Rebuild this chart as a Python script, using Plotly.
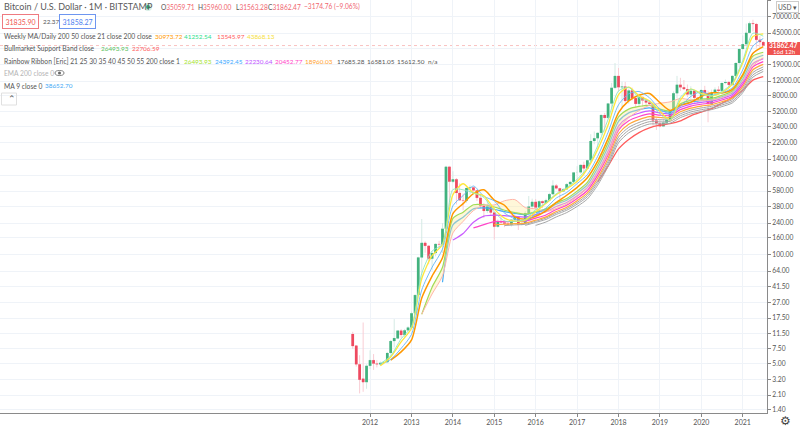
import plotly.graph_objects as go

W, H = 800, 428
# ---------- monthly candles ----------
months = []
y_, m_ = 2011, 8
for _ in range(120):
    months.append(f"{y_}-{m_:02d}-01")
    m_ += 1
    if m_ > 12:
        y_, m_ = y_ + 1, 1

opens = [11.3,8.2,4.9,3.3,3.0, 4.7,5.5,5,4.9,5.1,5.2,6.7,9.3,10,12.4,11,12.5,
 13.5,20,33,93,139,128,90,105,135,133,205,1130,
 750,800,550,450,445,630,640,590,480,385,335,378,
 320,217,254,244,236,230,263,284,230,236,316,378,
 430,368,437,416,449,532,673,624,574,609,700,745,
 966,970,1190,1080,1350,2300,2480,2875,4700,4340,6450,9950,
 13800,10100,10300,6930,9240,7490,6390,7730,7030,6630,6370,4040,
 3740,3440,3810,4100,5270,8560,10820,10080,9600,8290,9150,7550,
 7190,9350,8530,6410,8620,9450,9135,11350,11650,10780,13800,19700,
 28990,33100,45200,58800,57700,37300,35059]
closes = [8.1,4.9,3.2,3.0,4.7, 5.5,5,4.9,5.1,5.2,6.7,9.3,10.1,12.4,11,12.5,13.5,
 20,33,93,139,128,90,105,135,133,205,1130,750,
 800,550,450,445,630,640,590,480,385,335,378,320,
 217,254,244,236,230,263,284,230,236,316,378,430,
 368,437,416,449,532,673,624,574,609,700,745,966,
 970,1190,1080,1350,2300,2480,2875,4700,4340,6450,9950,13800,
 10100,10300,6930,9240,7490,6390,7730,7030,6630,6370,4040,3740,
 3440,3810,4100,5270,8560,10820,10080,9600,8290,9150,7550,7190,
 9350,8530,6410,8620,9450,9135,11350,11650,10780,13800,19700,28990,
 33100,45200,58800,57700,37300,35059,31862.47]
highs = [12,8.3,6.3,15.5,4.9, 7.2,6.5,5.5,5.3,5.3,6.9,9.6,17,12.6,12.9,13,14,
 21,33.5,95,268,145,130,110,137,147,240,1163,1160,
 1000,830,715,540,635,680,650,600,510,415,460,385,
 320,265,300,262,248,268,318,285,262,334,505,470,
 465,447,444,470,552,780,703,626,628,720,755,980,
 1150,1200,1300,1360,2770,2990,2920,4750,4980,6470,11400,19666,
 17170,11780,11700,9760,10000,7780,8480,7750,7420,6790,6600,4340,
 4090,4190,4120,5640,9000,13800,13100,12330,10900,10370,9500,7750,
 9580,10500,9190,9470,10070,10380,11420,12490,12080,14100,19890,29300,
 41950,58330,61780,64895,59500,41300,35960]
lows = [7.5,4.6,2.2,2.3,2.5, 4.3,4.2,4.5,4.7,4.9,5.1,6.4,7.8,9.8,10.2,10.4,12.4,
 13.3,19,32,50,106,77,65,96,118,105,198,380,
 720,400,440,340,420,525,565,440,360,275,315,300,
 152,212,235,214,228,218,254,198,225,235,306,350,
 350,365,362,412,435,525,605,465,570,606,680,741,
 750,930,885,1060,1320,2100,1830,2700,2970,4160,5560,9700,
 9100,5880,6600,6430,7040,5750,6070,5880,6100,6200,3500,3120,
 3350,3370,3800,4100,5330,7440,9100,9320,7700,7300,6500,6430,
 6850,8430,3850,6150,8100,8900,8900,10970,9870,10380,13200,17580,
 28130,32300,45000,47000,30000,28800,31563]

# ---------- indicator lines, read at quarter points ----------
quarters = [f"2012-{m}-01" for m in ("04","07","10")]
for yr in range(2013, 2021):
    quarters += [f"{yr}-{m}-01" for m in ("01","04","07","10")]
quarters += ["2021-01-01","2021-04-01","2021-07-01"]

ma_yellow = [4.7,6.0,9.1, 13.2,52,98,133, 525,708,550,510, 352,275,252,260, 326,413,525,620, 754,1067,1812,3570, 8220,10140,8010,6940, 5250,4070,7100,9580, 8540,7930,8750,10940, 19670,40750,43868]
ma_mint = [5.0,6.2,9.9, 13.9,60,111,134, 604,599,551,486, 327,254,252,266, 346,420,538,636, 798,1111,2017,4169, 9128,10074,7556,6830, 4844,4072,7666,9590, 8306,8020,8990,11340, 21074,44760,41252]
ma_blue = [4.9,5.6,7.6, 11.2,38,71,117, 386,511,665,501, 441,316,270,255, 304,362,478,557, 711,909,1506,2919, 6222,8435,8990,7569, 5540,4880,5990,7855, 8980,8120,8640,9950, 16290,31440,38652]
ma_orange = [None,5.5,6.9, 9.6,30.4,55.6,92, 312,410,538,599, 452,392,285,267, 289,336,424,516, 641,834,1320,2454, 5010,6955,8118,8497, 6628,5337,6158,6658, 7856,8679,8635,9501, 14293,25805,30973]
ema21 = [None]*4 + [19.5,41,71, 273,324,397,397, 373,341,321,307, 328,354,419,472, 578,736,1192,2194, 4454,5533,5951,6126, 5528,5257,6403,7049, 7308,7445,8090,9099, 13722,23809,26493]
sma21 = [None]*4 + [19.5,34,56, 183,251,338,393, 395,443,458,367, 355,328,358,404, 497,632,960,1641, 3191,4364,5304,6130, 6492,6755,7420,7124, 6982,7075,7547,8738, 12005,18302,22706]
ema25 = [None]*6 + [47, 228,282,354,364, 351,328,313,302, 321,345,402,450, 545,686,1085,1956, 3949,4991,5464,5723, 5299,5105,6113,6733, 7010,7190,7786,8703, 12669,21480,24392]
ema30 = [None]*7 + [150,180,245,290, 298,294,288,283, 303,327,378,423, 508,635,983,1741, 3471,4441,4942,5257, 4982,4875,5772,6360, 6663,6879,7441,8281, 11722,19369,22230]
ema35 = [None]*9 + [210,230, 250,249,251,253, 275,300,349,393, 472,588,898,1571, 3102,4004,4508,4850, 4675,4631,5449,6011, 6329,6569,7107,7891, 10946,17720,20452]
ema40 = [None]*11 + [230,232,236,239, 260,284,329,371, 444,550,829,1433, 2805,3643,4139,4493, 4388,4389,5146,5685, 6012,6268,6785,7522, 10272,16350,18960]
ema45 = [None]*12 + [224,228,232, 252,275,317,356, 423,521,775,1323, 2567,3348,3829,4185, 4129,4162,4869,5387, 5717,5984,6483,7182, 9690,15212,17685]
ema50 = [None]*14 + [225, 244,265,304,341, 404,495,728,1230, 2367,3097,3561,3913, 3893,3950,4614,5112, 5442,5715,6197,6862, 9169,14228,16581]
ema55 = [None]*15 + [225,247,284,320, 379,465,681,1144, 2191,2876,3323,3669, 3676,3750,4377,4856, 5184,5460,5927,6562, 8700,13369,15612]
ma200w = [None]*21 + [743,1150,1850,2400,2900,3300,3550,3700,4000,4600,5100,5600,6500,7600,9300,12300,13546]

price_ticks = [110000,70000,45000,29000,19000,12000,8000,5200,3400,2200,1400,900,580,380,240,160,100,64,41.5,27,17.5,11.5,7.5,5,3.2,2.1,1.4]
hidden_tick = 29000   # covered by the last-price tag in the reference
year_ticks = list(range(2012, 2022))
last_close = 31862.47

GREEN, RED = "#42B27E", "#EE4A60"
WICK_G, WICK_R = "#D5EAE4", "#F9CDD4"
TXT = "#555555"
FONT = "Lato"
LEG = 6.7
VAL = 6.4

fig = go.Figure()
fig.add_trace(go.Candlestick(
    x=months, open=opens, high=highs, low=lows, close=closes,
    increasing=dict(line=dict(color=WICK_G, width=1), fillcolor=GREEN),
    decreasing=dict(line=dict(color=WICK_R, width=1), fillcolor=RED),
    whiskerwidth=0, showlegend=False))

def bodies(up):
    xs, ys = [], []
    for d, o, c in zip(months, opens, closes):
        if (c >= o) == up:
            xs += [d, d, None]
            ys += [o, c, None]
    return xs, ys

for up, col in ((True, GREEN), (False, RED)):
    bx, by = bodies(up)
    fig.add_trace(go.Scatter(x=bx, y=by, mode="lines", line=dict(color=col, width=2.7),
                             showlegend=False, hoverinfo="skip"))

def ln(vals, col, w=1.0, **kw):
    fig.add_trace(go.Scatter(x=quarters, y=vals, mode="lines",
                             line=dict(color=col, width=w, shape="spline", smoothing=0.7),
                             showlegend=False, **kw))

# ribbon, slow to fast
ln(ma200w, "#FF5B5B", 1.3)
ln(ema55, "#A6A6A6", 1.0)
ln(ema50, "#A6A6A6", 1.0)
ln(ema45, "#A6A6A6", 1.0)
ln(ema40, "#FFA83D", 1.2)
ln(ema35, "#FF45C8", 1.2)
ln(ema30, "#C95CFF", 1.2)
ln(ema25, "#45AEF5", 1.2)
ln(ema21, "#A2DC55", 1.2)
ln(sma21, "#FFB5A8", 1.0, fill="tonexty", fillcolor="rgba(255,236,160,0.40)")
ln(ma_orange, "#FF9800", 1.5)
ln(ma_blue, "#64B5F6", 0.9)
ln(ma_yellow, "#FFE73A", 1.3)
ln(ma_mint, "#8CE8BE", 0.9)

anns = []
def txt(px, py, s, size=LEG, color=TXT, family=FONT, **kw):
    anns.append(dict(xref="paper", yref="paper", x=px / W, y=1 - py / H, text=s, showarrow=False,
                     xanchor=kw.pop("xanchor", "left"), yanchor="middle",
                     font=dict(family=family, size=size, color=color), align="left", **kw))

def sp(color, s):
    return f'<span style="color:{color}">{s}</span>'

rr = "#F0656F"
txt(2, 7, "Bitcoin / U.S. Dollar · 1M · BITSTAMP", size=9, color="#5a5a5a")
OH = 6.6
txt(159, 7, "O" + sp(rr, "35059.71"), size=OH)
txt(196, 7, "H" + sp(rr, "35960.00"), size=OH)
txt(234, 7, "L" + sp(rr, "31563.28"), size=OH)
txt(266, 7, "C" + sp(rr, "31862.47"), size=OH)
txt(302, 7, "−3174.76 (−9.06%)", size=OH, color=rr)
txt(1.5, 21, "31835.90", size=7, color="#EF5350", bordercolor="#EF7A80", borderwidth=1, borderpad=2.5, bgcolor="white")
txt(41, 21, "22.37", size=6.3)
txt(59, 21, "31858.27", size=7, color="#4C7DF0", bordercolor="#6E96F0", borderwidth=1, borderpad=2.5, bgcolor="white")
txt(2, 36, "Weekly MA/Daily 200 50 close 21 close 200 close")
for px, col, s in ((153, "#FF9800", "30973.72"), (182, "#2CE08A", "41252.54"),
                   (215, "#FF5B5B", "13545.97"), (245, "#F6E03A", "43868.13")):
    txt(px, 36, s, color=col, size=VAL)
txt(2, 48, "Bullmarket Support Band close")
txt(99, 48, "26493.93", color="#5CBF60", size=VAL)
txt(130, 48, "22706.59", color="#FF5B5B", size=VAL)
txt(2, 61, "Rainbow Ribbon [Eric] 21 25 30 35 40 45 50 55 200 close 1")
for px, col, s in ((182, "#A6E22E", "26493.93"), (213, "#39A8FF", "24392.45"), (243, "#C050FF", "22230.64"),
                   (273, "#FF40C8", "20452.77"), (303, "#FF9F2E", "18960.03"), (335, TXT, "17685.28"),
                   (365, TXT, "16581.05"), (395, TXT, "15612.50"), (426, TXT, "n/a")):
    txt(px, 61, s, color=col, size=VAL)
txt(2, 73, "EMA 200 close 0", color="#b4b4b4")
txt(2, 86, "MA 9 close 0")
txt(43, 86, "38652.70", color="#3FA9F5", size=VAL)
txt(6, 99, "⌃", size=9, color="#555555", family="DejaVu Sans")

# right-hand price tag and settings controls
txt(783.5, 45.3, "<b>31862.47</b>", size=6.6, color="white", xanchor="center")
txt(783.5, 51.5, "16d 12h", size=6.0, color="white", xanchor="center")
anns.append(dict(xref="paper", yref="paper", x=787 / W, y=1 - 7 / H, text="USD ▾", showarrow=False,
                 xanchor="center", yanchor="middle", font=dict(family=FONT, size=6.6, color="#555"),
                 bgcolor="white", bordercolor="#cccccc", borderwidth=1, borderpad=1))
anns.append(dict(xref="paper", yref="paper", x=785 / W, y=1 - 420.5 / H, text="⚙", showarrow=False,
                 xanchor="center", yanchor="middle", font=dict(family="DejaVu Sans", size=12, color="#444")))

def pbox(x0, y0, x1, y1):
    return dict(x0=x0 / W, x1=x1 / W, y0=1 - y1 / H, y1=1 - y0 / H, xref="paper", yref="paper")

shapes = [
    dict(type="line", xref="x domain", x0=0, x1=1, yref="y", y0=last_close, y1=last_close, layer="below",
         line=dict(color="rgba(239,83,80,0.45)", width=0.8, dash="dot")),
    dict(type="rect", **pbox(767, 42, 800, 55), fillcolor="#EF5350", line=dict(width=0)),
    dict(type="circle", **pbox(144, 3, 152, 11), fillcolor="rgba(38,166,120,0.18)", line=dict(width=0)),
    dict(type="circle", **pbox(146, 5, 150, 9), fillcolor="#2EAD7C", line=dict(width=0)),
    dict(type="circle", **pbox(55, 70.5, 64, 75.5), fillcolor="rgba(0,0,0,0)", line=dict(color="#666", width=0.8)),
    dict(type="circle", **pbox(58, 71.5, 61, 74.5), fillcolor="#666", line=dict(width=0)),
    dict(type="rect", **pbox(1.5, 93, 16.5, 105), fillcolor="rgba(0,0,0,0)", line=dict(color="#e0e0e0", width=1)),
]

fig.update_layout(
    width=W, height=H, margin=dict(l=0, r=0, t=0, b=0),
    paper_bgcolor="white", plot_bgcolor="white", showlegend=False,
    annotations=anns, shapes=shapes,
    font=dict(family=FONT, size=7, color=TXT),
    xaxis=dict(type="date", domain=[0, 767 / W], range=["2003-01-23", "2021-08-03"],
               rangeslider=dict(visible=False),
               tickvals=[f"{y}-01-01" for y in year_ticks], ticktext=[str(y) for y in year_ticks],
               showgrid=True, gridcolor="#EFF3F8", gridwidth=1, ticks="outside", ticklen=3, tickcolor="#888",
               tickfont=dict(size=7, color=TXT), showline=True, linecolor="#8a8a8a", linewidth=1,
               zeroline=False, automargin=False),
    yaxis=dict(type="log", side="right", domain=[15 / H, 1], range=[0.108, 5.048],
               tickvals=price_ticks, ticktext=["" if v == hidden_tick else f"{v:.2f}" for v in price_ticks],
               showgrid=True, gridcolor="#EFF3F8", gridwidth=1, ticks="outside", ticklen=3, tickcolor="#888",
               tickfont=dict(size=6.7, color=TXT), showline=True, linecolor="#8a8a8a", linewidth=1,
               zeroline=False, automargin=False),
)
fig.write_html("out.html", config=dict(displayModeBar=False),
               post_script="document.body.style.margin='0';document.body.style.overflow='hidden';")
